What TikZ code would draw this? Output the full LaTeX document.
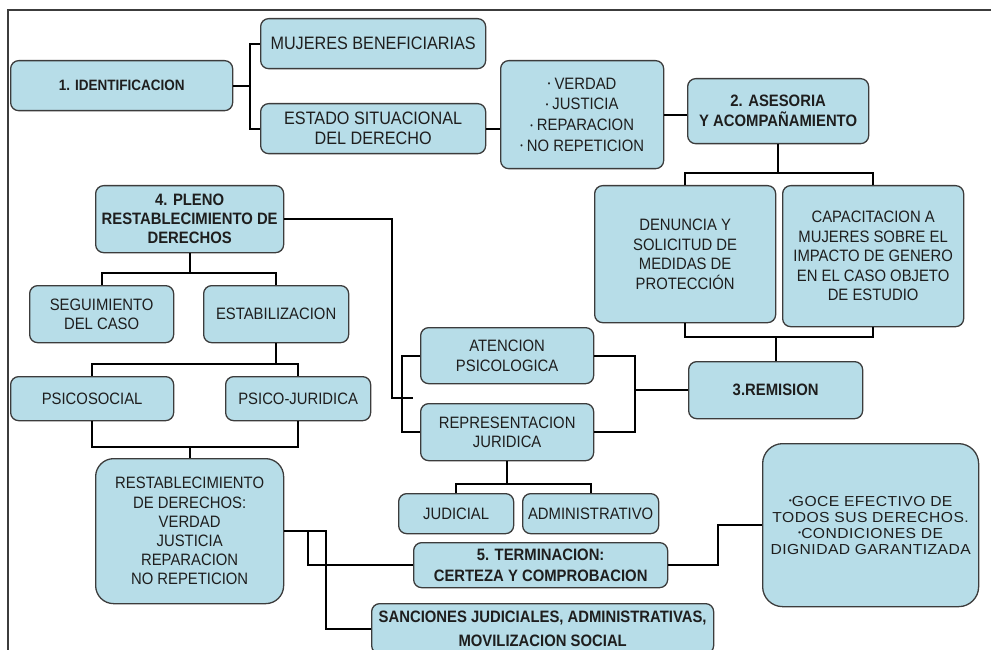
\documentclass[tikz,border=0pt]{standalone}
\usepackage{fontspec}
\setmainfont{Liberation Sans}[FakeStretch=0.9]
\newfontfamily\gocefont{Liberation Sans}[FakeStretch=1.08, LetterSpace=3]
\usetikzlibrary{positioning}

\definecolor{boxfill}{HTML}{B7DDE8}
\definecolor{boxline}{HTML}{3C3C3C}
\definecolor{txtcol}{HTML}{1E1E1E}
\newcommand{\bul}{\raisebox{2.5pt}{\fontsize{8}{8}\selectfont\textbullet}}

\begin{document}
\begin{tikzpicture}[x = 1pt, y = -1pt,
	box/.style = {rectangle, rounded corners = 8pt, draw = boxline, fill = boxfill, line width = 1.3pt,
		anchor = north west, align = center, inner sep = 0pt, text = txtcol, font = \fontsize{16.5}{19.5}\selectfont},
	bbox/.style = {box, font = \bfseries\fontsize{16.5}{20}\selectfont},
	sz/.style 2 args = {minimum width = #1pt, minimum height = #2pt},
	link/.style = {line width = 1.8pt, black}]

\useasboundingbox (0,0) rectangle (991,650);
\draw[boxline, line width = 1.2pt] (8,650) -- (8,10) -- (991,10);

% 1. identificacion
\node[bbox, sz={222}{50}, font = \bfseries\fontsize{15}{20}\selectfont]
								(id)	at (10,60)		{1. IDENTIFICACION};
\node[box, sz={225}{50}, font = \fontsize{18}{20}\selectfont]
								(muj)	at (260,18)		{MUJERES BENEFICIARIAS};
\node[box, sz={225}{50}, font = \fontsize{18}{20}\selectfont]
								(est)	at (260,103)	{ESTADO SITUACIONAL\\DEL DERECHO};
\node[box, sz={163}{108}, font = \fontsize{16.5}{20.7}\selectfont]
								(vjr)	at (500,60)		{\bul\ VERDAD\\\bul\ JUSTICIA\\\bul\ REPARACION\\\bul\ NO REPETICION};

% 2. asesoria
\node[bbox, sz={181}{65}]		(ase)	at (687,78)		{2. ASESORIA\\Y ACOMPAÑAMIENTO};
\node[box, sz={181}{137}]		(den)	at (594,185)	{DENUNCIA Y\\SOLICITUD DE\\MEDIDAS DE\\PROTECCIÓN};
\node[box, sz={181}{141}]		(cap)	at (782,185)	{CAPACITACION A\\MUJERES SOBRE EL\\IMPACTO DE GENERO\\EN EL CASO OBJETO\\DE ESTUDIO};

% 3. remision
\node[bbox, sz={174}{57}]		(rem)	at (688,361)	{3.REMISION};
\node[box, sz={173}{56}]		(ate)	at (420,327)	{ATENCION\\PSICOLOGICA};
\node[box, sz={173}{57}]		(rep)	at (420,403)	{REPRESENTACION\\JURIDICA};
\node[box, sz={115}{40}]		(jud)	at (398,493)	{JUDICIAL};
\node[box, sz={136}{40}]		(adm)	at (522,493)	{ADMINISTRATIVO};

% 4. pleno restablecimiento
\node[bbox, sz={188}{67}, font = \bfseries\fontsize{16.5}{19}\selectfont]
								(ple)	at (95,185)		{4. PLENO\\RESTABLECIMIENTO DE\\DERECHOS};
\node[box, sz={144}{57}]		(seg)	at (29,285)		{SEGUIMIENTO\\DEL CASO};
\node[box, sz={145}{57}]		(sta)	at (203,285)	{ESTABILIZACION};
\node[box, sz={163}{44}]		(pso)	at (10,376)		{PSICOSOCIAL};
\node[box, sz={145}{44}]		(pju)	at (225,376)	{PSICO-JURIDICA};
\node[box, sz={188}{145}, rounded corners = 18pt, font = \fontsize{16.5}{19.2}\selectfont]
								(res)	at (95,458)		{RESTABLECIMIENTO\\DE DERECHOS:\\VERDAD\\JUSTICIA\\REPARACION\\NO REPETICION};

% 5. terminacion
\node[bbox, sz={254}{45}, font = \bfseries\fontsize{16.5}{21.5}\selectfont]
								(ter)	at (413,542)	{5. TERMINACION:\\CERTEZA Y COMPROBACION};
\node[bbox, sz={342}{50}, font = \bfseries\fontsize{16.5}{23.5}\selectfont]
								(san)	at (371,603)	{SANCIONES JUDICIALES, ADMINISTRATIVAS,\\MOVILIZACION SOCIAL};
\node[box, sz={216}{163}, rounded corners = 20pt, font = \gocefont\fontsize{14.5}{16}\selectfont]
								(goc)	at (762,443)	{\bul GOCE EFECTIVO DE\\TODOS SUS DERECHOS.\\\bul CONDICIONES DE\\DIGNIDAD GARANTIZADA};

\coordinate (tip) at (413,398);

\draw[link]	(id.east) -- ++(17,0) coordinate (j1) |- (muj.west);
\draw[link]	(j1) |- (est.west);
\draw[link]	(est.east) -- (est.east -| vjr.west);
\draw[link]	(vjr.east) -- (vjr.east -| ase.west);
\draw[link]	(ase.south) -- ++(0,29) coordinate (j2) -| (den.north);
\draw[link]	(j2) -| (cap.north);
\draw[link]	(rem.north) -- ++(0,-24) coordinate (j3) -| (den.south);
\draw[link]	(j3) -| (cap.south);
\draw[link]	(rem.west) -- ++(-53,0) coordinate (j4) |- (ate.east);
\draw[link]	(j4) |- (rep.east);
\draw[link]	(ate.west) -- ++(-18,0) |- (rep.west);
\draw[link]	(ple.east) -- ++(108,0) |- (tip);
\draw[link]	(ple.south) -- ++(0,20) coordinate (j5) -| (seg.north);
\draw[link]	(j5) -| (sta.north);
\draw[link]	(sta.south) -- ++(0,21) coordinate (j6) -| (pso.north);
\draw[link]	(j6) -| (pju.north);
\draw[link]	(res.north) -- ++(0,-11) coordinate (j7) -| (pso.south);
\draw[link]	(j7) -| (pju.south);
\draw[link]	(rep.south) -- ++(0,23) coordinate (j8) -| (jud.north);
\draw[link]	(j8) -| (adm.north);
\draw[link]	(res.east) -- ++(24,0) |- (ter.west);
\draw[link]	(res.east) -- ++(42,0) |- (san.west);
\draw[link]	(ter.east) -- ++(50,0) |- (goc.west);

\end{tikzpicture}
\end{document}
